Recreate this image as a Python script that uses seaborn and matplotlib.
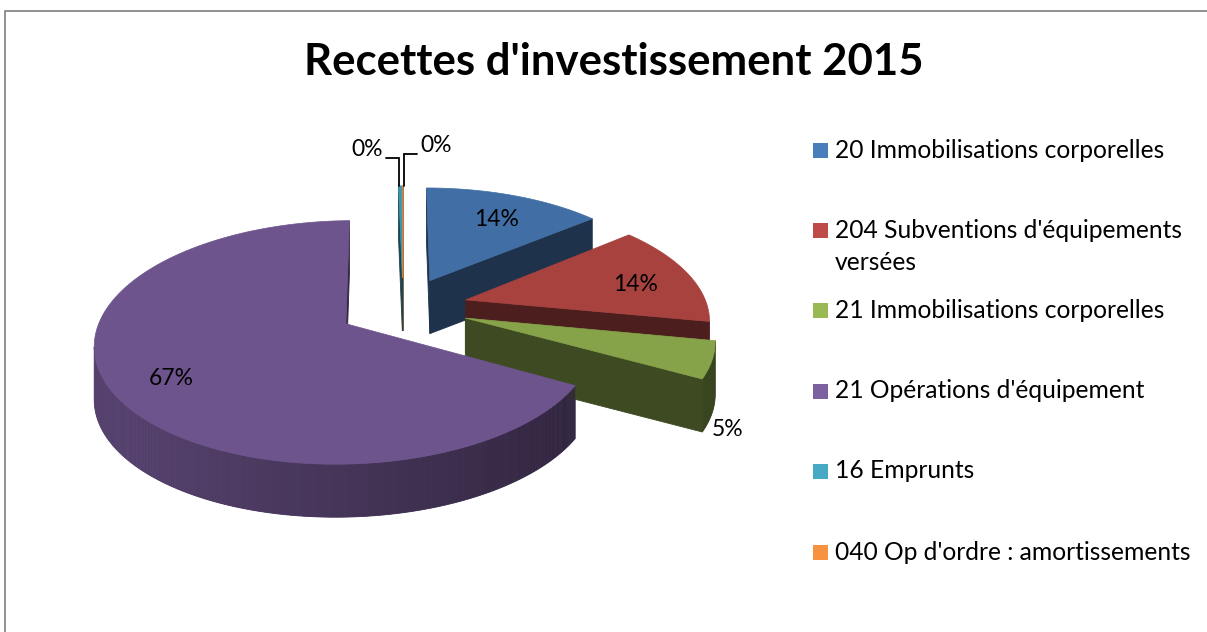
'''
Recettes d'investissement 2015 - 3D exploded pie (Excel style)
'''
import numpy as np
import matplotlib
matplotlib.use('Agg')
import matplotlib.pyplot as plt
import seaborn as sns
from matplotlib.colors import to_rgb

# ---------- DATA -------------------
title = "Recettes d'investissement 2015"
categories = ['20 Immobilisations corporelles',
              "204 Subventions d'équipements\nversées",
              '21 Immobilisations corporelles',
              "21 Opérations d'équipement",
              '16 Emprunts',
              "040 Op d'ordre : amortissements"]
shares = [14.0, 14.0, 5.0, 66.7, 0.25, 0.05]
colors = ['#4A7EBB', '#BE4B48', '#98B954', '#7D60A0', '#46AAC5', '#F69240']
label_mode = ['in', 'in', 'out', 'in', 'left', 'right']

# ---------- STYLE -------------------
sns.set_theme(style='white')
plt.rcParams['font.family'] = ['Lato', 'DejaVu Sans']
pal = sns.color_palette(colors)

# projection of the pie plane (u right, v far) to pixels
X0, Y0, RX, RY, PERSP, DEPTH, EXPLODE = 403, 307.5, 242, 114, 0.15, 53, 0.27
cam = np.array([0.0, -1 / PERSP])


def proj(u, v, z=0.0):
    s = 1 / (1 + PERSP * np.asarray(v))
    return X0 + RX * np.asarray(u) * s, Y0 - RY * np.asarray(v) * s + DEPTH * z


def shade(c, f):
    return tuple(min(1, x * f) for x in to_rgb(c))


def dist(u, v):
    return np.hypot(u - cam[0], v - cam[1])


fig = plt.figure(figsize=(12.07, 6.32), dpi=100)
ax = fig.add_axes([0, 0, 1, 1])
ax.set_xlim(0, 1207)
ax.set_ylim(632, 0)
ax.axis('off')

frac = np.array(shares) / sum(shares)
edges = np.concatenate([[0], np.cumsum(frac)]) * 2 * np.pi

sides = []   # (distance, u, v, z, colour, edge width)
tops = []
centers = []
for i in range(len(shares)):
    t1, t2 = edges[i], edges[i + 1]
    mid = (t1 + t2) / 2
    cu, cv = EXPLODE * np.sin(mid), EXPLODE * np.cos(mid)
    centers.append((cu, cv, mid))
    th = np.linspace(t1, t2, max(2, int(2 * np.degrees(t2 - t1)) + 2))
    au, av = cu + np.sin(th), cv + np.cos(th)

    # top face
    tops.append((np.r_[cu, au], np.r_[cv, av], shade(pal[i], 0.88)))

    # outer curved side: solid base first, then orientation-shaded strips
    vis = [m for m in (th[:-1] + th[1:]) / 2
           if np.sin(m) * (cam[0] - cu - np.sin(m)) + np.cos(m) * (cam[1] - cv - np.cos(m)) > 0]
    step = th[1] - th[0]
    if vis:
        a = np.linspace(min(vis) - step / 2, max(vis) + step / 2, 80)
        bu = np.r_[cu + np.sin(a), (cu + np.sin(a))[::-1]]
        bv = np.r_[cv + np.cos(a), (cv + np.cos(a))[::-1]]
        bz = np.r_[np.zeros(80), np.ones(80)]
        msum = np.mean(vis)
        far = max(dist(cu + np.sin(m), cv + np.cos(m)) for m in vis)
        sides.append((far + 0.001, bu, bv, bz,
                      shade(pal[i], 0.555 - 0.195 * np.sin(msum)), 0.6))
    for m in vis:
        a, b = m - step / 2, m + step / 2
        qu = [cu + np.sin(a), cu + np.sin(b), cu + np.sin(b), cu + np.sin(a)]
        qv = [cv + np.cos(a), cv + np.cos(b), cv + np.cos(b), cv + np.cos(a)]
        sides.append((dist(cu + np.sin(m), cv + np.cos(m)), qu, qv, [0, 0, 1, 1],
                      shade(pal[i], 0.555 - 0.195 * np.sin(m)), 0))

    # radial cut faces
    for t, n in ((t1, (-np.cos(t1), np.sin(t1))), (t2, (np.cos(t2), -np.sin(t2)))):
        pu, pv = cu + 0.5 * np.sin(t), cv + 0.5 * np.cos(t)
        if n[0] * (cam[0] - pu) + n[1] * (cam[1] - pv) <= 0:
            continue
        qu = [cu, cu + np.sin(t), cu + np.sin(t), cu]
        qv = [cv, cv + np.cos(t), cv + np.cos(t), cv]
        sides.append((dist(pu, pv), qu, qv, [0, 0, 1, 1], shade(pal[i], 0.4), 0.6))

# back to front
for d, qu, qv, qz, c, lw in sorted(sides, key=lambda s: -s[0]):
    x, y = proj(qu, qv, np.array(qz, dtype=float))
    ax.fill(x, y, color=c, lw=lw, ec=c if lw else 'none', zorder=2)
for u, v, c in tops:
    x, y = proj(u, v)
    ax.fill(x, y, color=c, lw=0.5, ec=c, zorder=3)

# ---------- LABELS -------------------
lab_fs = 16.5
leg_fs = 17.7
for i, (cu, cv, mid) in enumerate(centers):
    txt = f'{round(shares[i]):.0f}%'
    mode = label_mode[i]
    if mode == 'in':
        x, y = proj(cu + 0.76 * np.sin(mid), cv + 0.76 * np.cos(mid))
        ax.text(x, y + 5, txt, ha='center', va='center', fontsize=lab_fs, color='black', zorder=5)
    elif mode == 'out':
        x, y = proj(cu + np.sin(mid), cv + np.cos(mid), 1.0)
        ax.text(x, y + 6, txt, ha='left', va='top', fontsize=lab_fs, color='black', zorder=5)
    else:
        x, y = proj(cu + np.sin(mid), cv + np.cos(mid))
        sgn = -1 if mode == 'left' else 1
        rise = 28 if mode == 'left' else 32
        x = x + sgn * 1.5
        ax.plot([x, x, x + sgn * 13], [y, y - rise, y - rise], color='black', lw=1.3, zorder=5,
                solid_joinstyle='miter')
        ax.text(x + sgn * 16, y - rise - 8, txt,
                ha='right' if mode == 'left' else 'left', va='center', fontsize=lab_fs,
                color='black', zorder=5)

# title
ax.text(614, 62, title, ha='center', va='center', fontsize=31.5, fontweight='bold', color='black')

# legend
leg_y = [150, 230, 310, 391, 471, 552]
for c, lab, y in zip(pal, categories, leg_y):
    ax.add_patch(plt.Rectangle((813, y - 7.5), 15, 15, color=c, lw=0))
    for k, line in enumerate(lab.split('\n')):
        ax.text(835, y + 32 * k, line, ha='left', va='center', fontsize=leg_fs, color='black')

# chart border
ax.plot([4.5, 4.5, 1215], [640, 10.5, 10.5], color='#878787', lw=1.3,
        solid_capstyle='butt', clip_on=True)

plt.savefig('out.png', dpi=100, facecolor='white')
plt.close()
